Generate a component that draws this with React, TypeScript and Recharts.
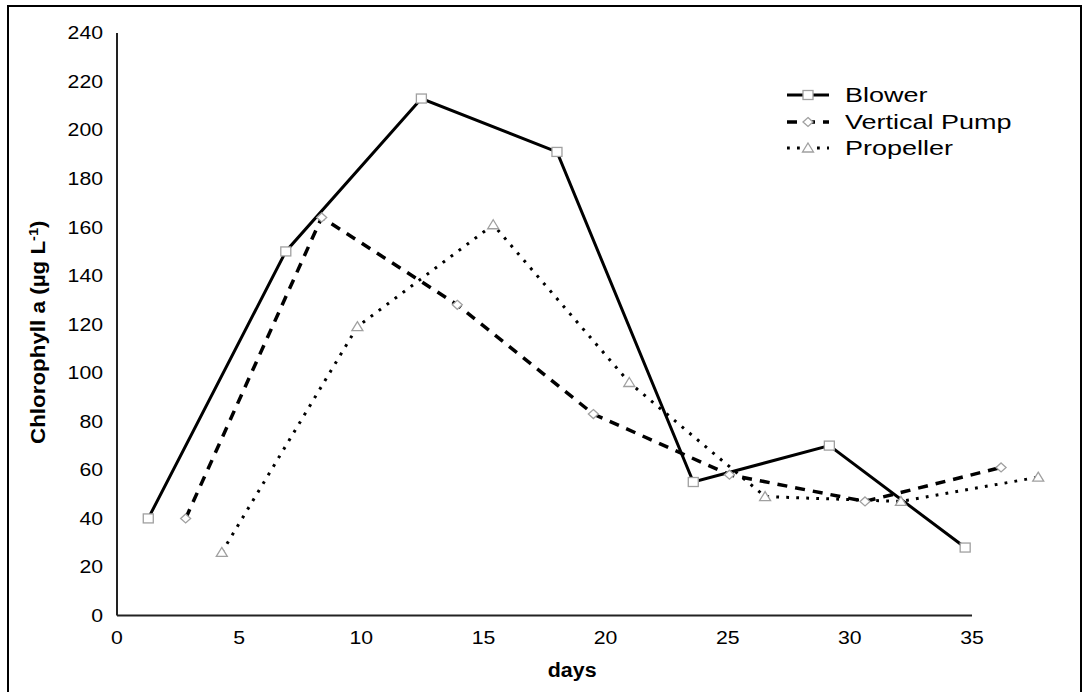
import React from 'react';
import { LineChart, Line, XAxis, YAxis, Legend, ReferenceLine, Label } from 'recharts';

// ---- data ----
const blowerDays = [1.28, 6.91, 12.46, 18.01, 23.59, 29.16, 34.72];
const blowerValues = [40, 150, 213, 191, 55, 70, 28];
const pumpDays = [2.81, 8.38, 13.93, 19.5, 25.07, 30.62, 36.19];
const pumpValues = [40, 164, 128, 83, 58, 47, 61];
const propellerDays = [4.29, 9.84, 15.4, 20.97, 26.53, 32.09, 37.71];
const propellerValues = [26, 119, 161, 96, 49, 47, 57];
const seriesNames = ['Blower', 'Vertical Pump', 'Propeller'];
const xTicks = [0, 5, 10, 15, 20, 25, 30, 35];
const yTicks = [0, 20, 40, 60, 80, 100, 120, 140, 160, 180, 200, 220, 240];
const xAxisTitle = 'days';
const yAxisTitle = 'Chlorophyll a (\u00b5g L';

const zip = (days: number[], vals: number[]) => days.map((d, i) => ({ day: d, value: vals[i] }));
const blowerData = zip(blowerDays, blowerValues);
const pumpData = zip(pumpDays, pumpValues);
const propellerData = zip(propellerDays, propellerValues);

const FONT = "Arial, 'Liberation Sans', sans-serif";
const MARK_STROKE = '#a0a0a0';

type Shape = 'square' | 'diamond' | 'triangle';

const Marker = ({ cx, cy, shape }: { cx: number; cy: number; shape: Shape }) => {
  if (shape === 'square') {
    return <rect x={cx - 5} y={cy - 4.5} width={10} height={9} fill="#fff" stroke={MARK_STROKE} strokeWidth={1.3} />;
  }
  if (shape === 'diamond') {
    return (
      <polygon
        points={`${cx},${cy - 4.5} ${cx + 5},${cy} ${cx},${cy + 4.5} ${cx - 5},${cy}`}
        fill="#fff"
        stroke={MARK_STROKE}
        strokeWidth={1.3}
      />
    );
  }
  return (
    <polygon
      points={`${cx},${cy - 5} ${cx + 5.5},${cy + 4} ${cx - 5.5},${cy + 4}`}
      fill="#fff"
      stroke={MARK_STROKE}
      strokeWidth={1.3}
    />
  );
};

const seriesStyles = [
  { shape: 'square' as Shape, dash: undefined as string | undefined, width: 3 },
  { shape: 'diamond' as Shape, dash: '10 8', width: 3.5 },
  { shape: 'triangle' as Shape, dash: '2.8 7.2', width: 3 },
];

const makeDot = (shape: Shape) => (p: any) =>
  <Marker key={`${shape}-${p.index}`} cx={p.cx} cy={p.cy} shape={shape} />;

const YTick = (props: any) => {
  const { x, y, payload } = props;
  return (
    <text
      transform={`translate(${x},${y}) scale(1.18,1)`}
      textAnchor="end"
      dy="0.355em"
      fontSize={18}
      fontFamily={FONT}
      fill="#000"
    >
      {payload.value}
    </text>
  );
};

const XTick = (props: any) => {
  const { x, y, payload } = props;
  return (
    <text
      transform={`translate(${x},${y}) scale(1.18,1)`}
      textAnchor="middle"
      dy="0.71em"
      fontSize={18}
      fontFamily={FONT}
      fill="#000"
    >
      {payload.value}
    </text>
  );
};

const LegendContent = () => (
  <div style={{ fontFamily: FONT, color: '#000' }}>
    {seriesNames.map((name, i) => {
      const st = seriesStyles[i];
      return (
        <div key={name} style={{ display: 'flex', alignItems: 'center', height: 26.5 }}>
          <svg width={44} height={20} style={{ display: 'block', overflow: 'visible' }}>
            <line x1={1} y1={10} x2={43} y2={10} stroke="#000" strokeWidth={st.width} strokeDasharray={st.dash} />
            <Marker cx={22} cy={10} shape={st.shape} />
          </svg>
          <span
            style={{
              marginLeft: 15,
              fontSize: 20,
              lineHeight: '20px',
              display: 'inline-block',
              transform: 'scaleX(1.35)',
              transformOrigin: 'left center',
              whiteSpace: 'nowrap',
            }}
          >
            {name}
          </span>
        </div>
      );
    })}
  </div>
);

const YTitle = (props: any) => {
  const vb = props.viewBox;
  const cx = vb.x + 38;
  const cy = vb.y + vb.height / 2 + 8;
  return (
    <text
      transform={`translate(${cx},${cy}) rotate(-90) scale(1.12,1)`}
      textAnchor="middle"
      dy="0.35em"
      fontSize={20}
      fontWeight="bold"
      fontFamily={FONT}
      fill="#000"
    >
      {yAxisTitle}
      <tspan dy={-7} fontSize={13}>-1</tspan>
      <tspan dy={7}>)</tspan>
    </text>
  );
};

const XTitle = (props: any) => {
  const vb = props.viewBox;
  const cx = vb.x + vb.width / 2 - 9;
  const cy = vb.y + 61.5;
  return (
    <text
      transform={`translate(${cx},${cy}) scale(1.07,1)`}
      textAnchor="middle"
      fontSize={20}
      fontWeight="bold"
      fontFamily={FONT}
      fill="#000"
    >
      {xAxisTitle}
    </text>
  );
};

export default function App() {
  return (
    <div style={{ position: 'absolute', left: 0, top: 0, width: 1082, height: 692, background: '#fff' }}>
      <div
        style={{
          position: 'absolute',
          left: 7,
          top: 5,
          width: 1071,
          height: 690,
          borderLeft: '2px solid #000',
          borderTop: '2px solid #000',
          borderRight: '2px solid #000',
        }}
      />
      <LineChart
        width={1082}
        height={692}
        margin={{ top: 33, right: 36.7, bottom: 10.5, left: 0 }}
      >
        <XAxis
          type="number"
          dataKey="day"
          domain={[0, 38]}
          ticks={xTicks}
          axisLine={false}
          tickLine={false}
          tickSize={6}
          tickMargin={9.5}
          tick={<XTick />}
          height={66}
          allowDuplicatedCategory={false}
        >
          <Label content={<XTitle />} />
        </XAxis>
        <YAxis
          type="number"
          domain={[0, 240]}
          ticks={yTicks}
          width={117}
          axisLine={{ stroke: '#222', strokeWidth: 2 }}
          tickLine={false}
          tickSize={6}
          tickMargin={8}
          tick={<YTick />}
        >
          <Label content={<YTitle />} />
        </YAxis>
        <ReferenceLine
          segment={[{ x: 0, y: 0 }, { x: 35, y: 0 }]}
          stroke="#222"
          strokeWidth={2}
          ifOverflow="visible"
        />
        <Legend
          layout="vertical"
          align="center"
          verticalAlign="middle"
          wrapperStyle={{ left: 786, top: 82, width: 280 }}
          content={<LegendContent />}
        />
        <Line
          data={blowerData}
          dataKey="value"
          name={seriesNames[0]}
          stroke="#000"
          strokeWidth={seriesStyles[0].width}
          dot={makeDot('square')}
          activeDot={false}
          isAnimationActive={false}
        />
        <Line
          data={pumpData}
          dataKey="value"
          name={seriesNames[1]}
          stroke="#000"
          strokeWidth={seriesStyles[1].width}
          strokeDasharray={seriesStyles[1].dash}
          dot={makeDot('diamond')}
          activeDot={false}
          isAnimationActive={false}
        />
        <Line
          data={propellerData}
          dataKey="value"
          name={seriesNames[2]}
          stroke="#000"
          strokeWidth={seriesStyles[2].width}
          strokeDasharray={seriesStyles[2].dash}
          dot={makeDot('triangle')}
          activeDot={false}
          isAnimationActive={false}
        />
      </LineChart>
    </div>
  );
}
